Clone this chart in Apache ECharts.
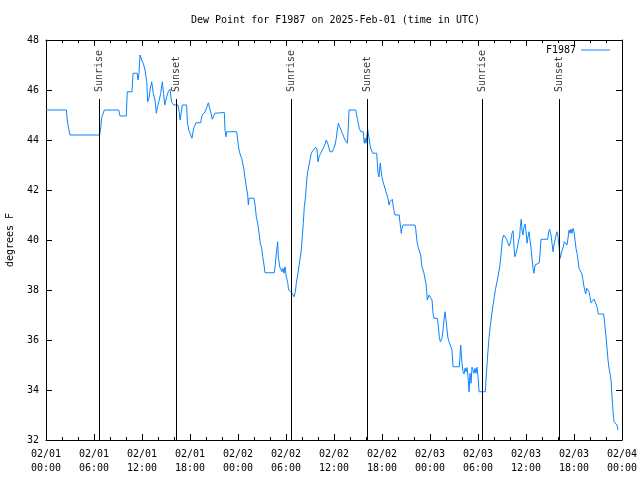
<!DOCTYPE html>
<html><head><meta charset="utf-8">
<script src="https://cdn.jsdelivr.net/npm/echarts@6/dist/echarts.min.js"></script>
<style>html,body{margin:0;padding:0;background:#fff}#c{width:640px;height:480px}</style>
</head><body><div id="c"></div>
<script>
// hours since 2025-02-01 00:00 UTC, dew point in degrees F
const day1 = [
[0,45.2],[2.54,45.2],[2.66,44.8],[2.75,44.6],[3.0,44.2],[6.71,44.2],[6.84,44.5],[6.96,44.9],[7.29,45.2],[9.09,45.2],
[9.25,44.96],[10.04,44.96],[10.16,45.93],[10.75,45.93],[10.88,46.67],[11.41,46.67],[11.5,46.4],[11.63,46.67],[11.75,47.4],[11.96,47.2],
[12.16,47.07],[12.38,46.8],[12.59,46.33],[12.71,45.53],[12.88,45.67],[13.0,46.0],[13.21,46.33],[13.41,45.87],[13.63,45.6],[13.79,45.07],
[13.91,45.27],[14.16,45.6],[14.34,45.87],[14.54,46.33],[14.69,45.87],[14.84,45.4],[15.09,45.73],[15.29,45.93],[15.5,46.03],[15.71,45.5],
[16.0,45.4],[16.5,45.4],[16.67,45.1],[16.75,44.8],[16.96,45.2],[17.04,45.4],[17.58,45.4],[17.67,44.73],[17.84,44.4],[18.0,44.27],
[18.13,44.2],[18.25,44.07],[18.42,44.4],[18.54,44.53],[18.75,44.69],[19.34,44.69],[19.41,44.83],[19.54,45.0],[19.75,44.96],[19.88,45.13],
[20.13,45.33],[20.29,45.49],[20.5,45.5],[20.63,45.07],[20.79,44.83],[21.0,44.83],[21.09,45.07],[21.25,45.1],[22.29,45.1],[22.38,44.4],
[22.5,44.13],[22.59,44.33],[23.84,44.33],[23.96,44.0]
];
const day2 = [
[24.13,43.6],[24.29,43.4],[24.46,43.27],[24.59,43.07],[24.75,42.8],[24.88,42.47],[25.04,42.13],[25.21,41.8],[25.29,41.4],[25.38,41.67],
[26.0,41.67],[26.13,41.4],[26.29,40.93],[26.46,40.67],[26.63,40.27],[26.79,39.87],[26.96,39.67],[27.09,39.33],[27.25,39.0],[27.38,38.69],
[28.54,38.69],[28.66,39.0],[28.79,39.47],[28.96,39.93],[29.04,39.33],[29.21,38.93],[29.38,38.93],[29.5,38.73],[29.63,38.87],[29.75,38.67],
[29.88,38.93],[30.04,38.53],[30.21,38.3],[30.33,38.0],[30.5,37.93],[30.71,37.9],[30.88,37.93],[31.0,37.73],[31.17,37.93],[31.29,38.27],
[31.46,38.6],[31.63,38.96],[31.79,38.96],[31.91,39.6],[32.04,40.13],[32.16,40.67],[32.29,41.33],[32.46,41.8],[32.59,42.4],[32.71,42.73],
[32.88,43.0],[33.0,43.2],[33.16,43.47],[33.34,43.57],[33.5,43.63],[33.71,43.71],[33.88,43.6],[34.0,43.13],[34.13,43.33],[34.34,43.47],
[34.54,43.6],[34.75,43.73],[34.91,43.87],[35.04,44.0],[35.21,43.87],[35.38,43.67],[35.5,43.53],[35.79,43.53],[35.96,43.67],[36.13,43.8],
[36.29,44.07],[36.41,44.4],[36.54,44.67],[36.71,44.53],[36.88,44.4],[37.04,44.27],[37.21,44.13],[37.38,44.0],[37.54,43.93],[37.66,43.87],
[37.75,44.27],[37.88,45.2],[38.71,45.2],[38.79,45.07],[38.91,44.87],[39.04,44.67],[39.16,44.47],[39.34,44.33],[39.66,44.33],[39.71,44.13],
[39.79,43.87],[39.88,44.07],[40.0,43.87],[40.21,44.43],[40.29,44.27],[40.41,44.0],[40.54,43.73],[40.66,43.6],[40.84,43.47],[41.34,43.47],
[41.41,43.1],[41.5,42.7],[41.63,42.52],[41.71,42.88],[41.79,43.08],[41.88,42.8],[42.0,42.5],[42.13,42.33],[42.25,42.2],[42.38,42.13],
[42.5,41.93],[42.75,41.67],[42.88,41.4],[43.0,41.53],[43.13,41.6],[43.29,41.63],[43.38,41.4],[43.5,41.17],[43.63,41.0],[44.16,41.0],
[44.21,40.8],[44.34,40.47],[44.41,40.27],[44.5,40.47],[44.63,40.6],[46.13,40.6],[46.21,40.47],[46.29,40.2],[46.38,39.93],[46.5,39.73],
[46.63,39.6],[46.75,39.6],[46.84,39.4],[46.91,39.13],[47.0,38.93],[47.13,38.87],[47.25,38.67],[47.38,38.43],[47.5,38.27],[47.59,37.93],
[47.66,37.6],[47.75,37.67],[47.88,37.8]
];
const day3 = [
[48.0,37.73],[48.13,37.87],[48.25,37.6],[48.38,37.07],[48.5,36.87],[48.91,36.87],[49.0,36.67],[49.09,36.4],[49.16,36.13],[49.29,35.93],
[49.38,35.89],[49.5,36.07],[49.63,36.4],[49.75,36.8],[49.88,37.13],[50.0,36.8],[50.13,36.4],[50.25,36.07],[50.38,35.93],[50.5,35.89],
[50.63,35.87],[50.75,35.6],[50.88,34.93],[51.66,34.93],[51.75,35.33],[51.84,35.8],[51.91,35.47],[52.0,35.07],[52.13,34.73],[52.25,34.64],
[52.38,34.87],[52.5,34.73],[52.63,34.9],[52.75,34.53],[52.88,33.93],[53.0,34.67],[53.13,34.27],[53.25,34.91],[53.38,34.91],[53.5,34.67],
[53.63,34.87],[53.75,34.67],[53.88,34.91],[54.0,34.53],[54.13,33.93],[54.91,33.93],[55.04,34.6],[55.21,35.4],[55.38,36.1],[55.54,36.57],
[55.71,37.0],[55.88,37.4],[56.04,37.73],[56.21,38.07],[56.38,38.33],[56.54,38.6],[56.71,38.93],[56.88,39.4],[57.04,40.0],[57.21,40.2],
[57.41,40.2],[57.59,40.03],[57.75,39.87],[57.91,39.76],[58.09,39.97],[58.25,40.27],[58.38,40.37],[58.46,39.93],[58.59,39.33],[58.75,39.47],
[58.91,39.67],[59.09,40.0],[59.21,40.13],[59.29,40.53],[59.41,40.83],[59.5,40.4],[59.63,40.2],[59.71,40.47],[59.88,40.64],[60.0,40.33],
[60.13,39.87],[60.25,40.13],[60.38,40.33],[60.5,40.0],[60.63,39.67],[60.75,39.27],[60.88,38.87],[61.0,38.67],[61.13,39.0],[61.25,39.07],
[61.66,39.09],[61.75,39.47],[61.88,40.03],[62.71,40.03],[62.84,40.33],[62.96,40.43],[63.13,40.2],[63.25,39.87],[63.38,39.53],[63.5,39.8],
[63.63,40.0],[63.75,40.2],[63.88,40.33],[64.0,40.13],[64.13,39.73],[64.29,39.27],[64.41,39.47],[64.54,39.6],[64.66,39.73],[64.79,39.93],
[64.91,39.87],[65.0,40.0],[65.13,39.8],[65.25,40.07],[65.38,40.4],[65.5,40.27],[65.63,40.43],[65.75,40.27],[65.88,40.47],[66.0,40.33],
[66.13,40.0],[66.25,39.67],[66.38,39.47],[66.5,39.2],[66.63,38.87],[66.88,38.87],[66.96,38.67],[67.09,38.47],[67.21,38.2],[67.34,38.0],
[67.46,37.84],[67.59,38.07],[67.75,38.1],[67.88,37.93],[68.0,37.73],[68.13,37.49],[68.25,37.57],[68.5,37.64],[68.63,37.53],[68.75,37.44],
[68.9,37.3],[69.04,37.04],[69.71,37.04],[69.79,36.8],[69.88,36.53],[70.0,36.13],[70.13,35.67],[70.25,35.2],[70.38,34.87],[70.5,34.67],
[70.63,34.4],[70.75,33.73],[70.88,33.13],[71.0,32.73],[71.25,32.73],[71.38,32.6],[71.5,32.4]
];
const tickDates = ['02/01','02/01','02/01','02/01','02/02','02/02','02/02','02/02','02/03','02/03','02/03','02/03','02/04'];
const tickTimes = ['00:00','06:00','12:00','18:00','00:00','06:00','12:00','18:00','00:00','06:00','12:00','18:00','00:00'];
const eventHours = [6.67, 16.3, 30.7, 40.2, 54.55, 64.15];
const eventNames = ['Sunrise','Sunset','Sunrise','Sunset','Sunrise','Sunset'];
const eventLineTop = 45.64;
const eventLabelBase = 45.92;
const yTicks = [32,34,36,38,40,42,44,46,48];

const FONT = 'DejaVu Sans Mono';
const COLOR = '#0a84ff';
const chart = echarts.init(document.getElementById('c'), null, {renderer:'canvas'});
const tickStyle = {show:true, inside:true, length:6, lineStyle:{color:'#000', width:1}};
const minorStyle = {show:true, splitNumber:3, length:3, lineStyle:{color:'#000', width:1}};
const axisLine = {show:true, onZero:false, lineStyle:{color:'#000', width:1}};
chart.setOption({
  animation:false,
  backgroundColor:'#fff',
  title:{text:'Dew Point for F1987 on 2025-Feb-01 (time in UTC)', left:191, top:15, padding:0,
    textStyle:{fontFamily:FONT, fontSize:10, fontWeight:'normal', color:'#000'}},
  legend:{data:[{name:'F1987', icon:'rect', itemStyle:{color:COLOR}}], right:30, top:45, align:'right', itemWidth:29, itemHeight:1,
    padding:0, textStyle:{fontFamily:FONT, fontSize:10, color:'#000'}},
  grid:{left:46, right:18, top:40, bottom:40, containLabel:false, outerBoundsMode:'none'},
  xAxis:[{
    type:'value', min:0, max:72, interval:6, position:'bottom',
    axisLine:axisLine, axisTick:tickStyle, minorTick:minorStyle, splitLine:{show:false},
    axisLabel:{margin:7, fontFamily:FONT, fontSize:10, lineHeight:14, color:'#000',
      formatter:(v)=>{const i=Math.round(v/6); return tickDates[i]+'\n'+tickTimes[i];}}
  },{
    type:'value', min:0, max:72, interval:6, position:'top',
    axisLine:axisLine, axisTick:tickStyle, minorTick:minorStyle, splitLine:{show:false},
    axisLabel:{show:false}
  }],
  yAxis:[{
    type:'value', min:32, max:48, interval:2, position:'left',
    name:'degrees F', nameLocation:'middle', nameGap:31, nameRotate:90,
    nameTextStyle:{fontFamily:FONT, fontSize:10, color:'#000'},
    axisLine:axisLine, axisTick:tickStyle, splitLine:{show:false},
    axisLabel:{margin:7, fontFamily:FONT, fontSize:10, color:'#000',
      formatter:(v)=> yTicks.includes(v) ? String(v) : ''}
  },{
    type:'value', min:32, max:48, interval:2, position:'right',
    axisLine:axisLine, axisTick:tickStyle, splitLine:{show:false}, axisLabel:{show:false}
  }],
  series:[{
    name:'F1987', type:'line', data:day1.concat(day2, day3), showSymbol:false, symbol:'none',
    lineStyle:{color:COLOR, width:1}, itemStyle:{color:COLOR},
    markLine:{silent:true, symbol:['none','none'], label:{show:false},
      lineStyle:{color:'#000', width:1, type:'solid'},
      data: eventHours.map(h=>[{coord:[h,32]},{coord:[h,eventLineTop]}])}
  },{
    name:'events', type:'scatter', symbolSize:0, silent:true,
    data: eventHours.map((h,i)=>[h, eventLabelBase, eventNames[i]]),
    label:{show:true, position:'inside', rotate:90, align:'left', verticalAlign:'middle',
      formatter:(p)=>p.data[2], fontFamily:FONT, fontSize:10, color:'#000'}
  }]
});
</script></body></html>
